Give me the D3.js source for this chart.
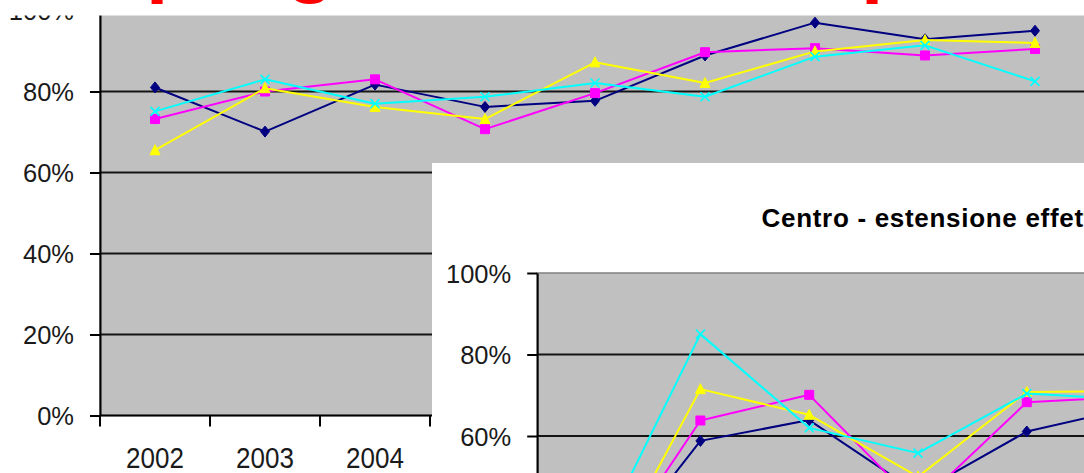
<!DOCTYPE html>
<html><head><meta charset="utf-8">
<script src="https://cdn.jsdelivr.net/npm/d3@7"></script>
<style>
html,body{margin:0;padding:0;background:#fff;overflow:hidden;}
svg{display:block;}
text{font-family:"Liberation Sans",Arial,sans-serif;}
</style></head><body>
<svg id="c" width="1084" height="473"></svg>
<script>
// ---- data: main chart ----
const years = ["2002","2003","2004","2005","2006","2007","2008","2009","2010"];
const yTickValues = [0,20,40,60,80,100];
const seriesNames = ["Serie 1","Serie 2","Serie 3","Serie 4"];
const navyValues    = [81.0,70.1,81.7,76.2,77.7,88.9,97.0,92.9,95.0];
const magentaValues = [73.2,80.0,83.0,70.7,79.6,89.7,90.7,88.9,90.5];
const yellowValues  = [65.5,80.8,76.2,73.2,87.2,82.1,89.9,92.7,92.0];
const cyanValues    = [75.1,83.0,77.0,78.7,82.1,78.7,88.6,91.4,82.5];

// ---- data: inset chart ----
const insetTitle = "Centro - estensione effettiva";
const insetYears = ["2002","2003","2004","2005","2006","2007"];
const insetNavy    = [24.6,58.8,63.9,46.0,61.1,67.2];
const insetMagenta = [24.0,63.8,70.1,43.0,68.3,69.7];
const insetYellow  = [21.7,71.5,65.2,50.0,70.8,71.0];
const insetCyan    = [30.9,85.0,62.0,55.8,70.4,68.9];

// ---- cut-off slide heading fragments ----
const headingGlyphs = ["p","g",",","p"];

const svg = d3.select("#c");
const colors = ["#000080","#ff00ff","#ffff00","#00ffff"];
const markerTypes = ["diamond","square","triangle","x"];

function markerPath(type){
  switch(type){
    case "diamond": return "M0,-5.5L4.5,0L0,5.5L-4.5,0Z";
    case "square": return "M-4.5,-4.5H4.5V4.5H-4.5Z";
    case "triangle": return "M0,-5.5L5,4.5H-5Z";
    default: return "M-4.5,-4.5L4.5,4.5M4.5,-4.5L-4.5,4.5";
  }
}

function drawChart(g, cfg){
  const x = d3.scaleBand().domain(cfg.cats).range(cfg.xRange).paddingInner(0).paddingOuter(0);
  const y = d3.scaleLinear().domain([0,100]).range(cfg.yRange);
  const [x0,x1] = cfg.xRange;
  // plot area
  g.append("rect").attr("x",x0).attr("y",y(100)).attr("width",x1-x0).attr("height",y(0)-y(100))
    .attr("fill","#c0c0c0").attr("stroke","#808080").attr("stroke-width",1.5);
  // gridlines
  g.append("g").selectAll("line").data(yTickValues.filter(v=>v>0 && v<100)).join("line")
    .attr("x1",x0).attr("x2",x1).attr("y1",d=>y(d)).attr("y2",d=>y(d))
    .attr("stroke","#141414").attr("stroke-width",2);
  // y axis
  const ya = g.append("g").attr("transform",`translate(${x0},0)`)
    .call(d3.axisLeft(y).tickValues(yTickValues).tickFormat(d=>d+"%").tickSizeInner(10).tickSizeOuter(0).tickPadding(16));
  ya.select(".domain").attr("stroke","#000").attr("stroke-width",2);
  ya.selectAll(".tick line").attr("stroke","#000").attr("stroke-width",2);
  ya.selectAll("text").attr("font-size",25.5).attr("fill","#1a1a1a").attr("dy","0.36em")
    .attr("font-family","'Liberation Sans',Arial,sans-serif");
  // x axis
  const xa = g.append("g").attr("transform",`translate(0,${y(0)})`);
  xa.append("line").attr("x1",x0).attr("x2",x1).attr("stroke","#000").attr("stroke-width",2);
  const bounds = cfg.cats.map(c=>x(c)).concat([x1]);
  xa.selectAll(".bt").data(bounds).join("line").attr("class","bt")
    .attr("x1",d=>d).attr("x2",d=>d).attr("y1",0).attr("y2",11)
    .attr("stroke","#000").attr("stroke-width",2);
  xa.selectAll(".lbl").data(cfg.cats).join("text").attr("class","lbl")
    .attr("transform",d=>`translate(${x(d)+x.bandwidth()/2},${52.8}) scale(1,1.16)`)
    .attr("text-anchor","middle").attr("font-size",26).attr("fill","#1a1a1a").text(d=>d);
  // series
  cfg.series.forEach((vals,i)=>{
    const sg = g.append("g");
    const pts = vals.map((v,j)=>[x(cfg.cats[j])+x.bandwidth()/2, y(v)]);
    sg.append("path").attr("d",d3.line()(pts)).attr("fill","none")
      .attr("stroke",colors[i]).attr("stroke-width",2).attr("stroke-linejoin","round");
    sg.selectAll("path.m").data(pts).join("path").attr("class","m")
      .attr("transform",p=>`translate(${p[0]},${p[1]})`)
      .attr("d",markerPath(markerTypes[i]))
      .attr("fill",markerTypes[i]==="x"?"none":colors[i])
      .attr("stroke",colors[i]).attr("stroke-width",markerTypes[i]==="x"?1.6:1);
  });
  return {x,y};
}

// main chart
const main = svg.append("g");
drawChart(main,{cats:years, xRange:[100,1090], yRange:[415.5,10.5],
  series:[navyValues,magentaValues,yellowValues,cyanValues]});

// white heading band with cut-off red heading
svg.append("rect").attr("x",0).attr("y",0).attr("width",1084).attr("height",15.5).attr("fill","#fff");
const glyphX = [146,286,814,861];
svg.append("g").selectAll("text").data(headingGlyphs).join("text")
  .attr("x",(d,i)=>glyphX[i]).attr("y",-12.8)
  .attr("font-size",80).attr("font-weight","bold").attr("fill","#ff0000").text(d=>d);

// inset chart
const inset = svg.append("g");
inset.append("rect").attr("x",432).attr("y",163).attr("width",700).attr("height",400).attr("fill","#fff");
inset.append("text").attr("x",761.5).attr("y",226.7).attr("font-size",26).attr("font-weight","bold")
  .attr("letter-spacing","0.7px").attr("fill","#000").text(insetTitle);
drawChart(inset,{cats:insetYears, xRange:[537.2,537.2+6*108.8], yRange:[680.5,273],
  series:[insetNavy,insetMagenta,insetYellow,insetCyan]});
</script>
</body></html>
